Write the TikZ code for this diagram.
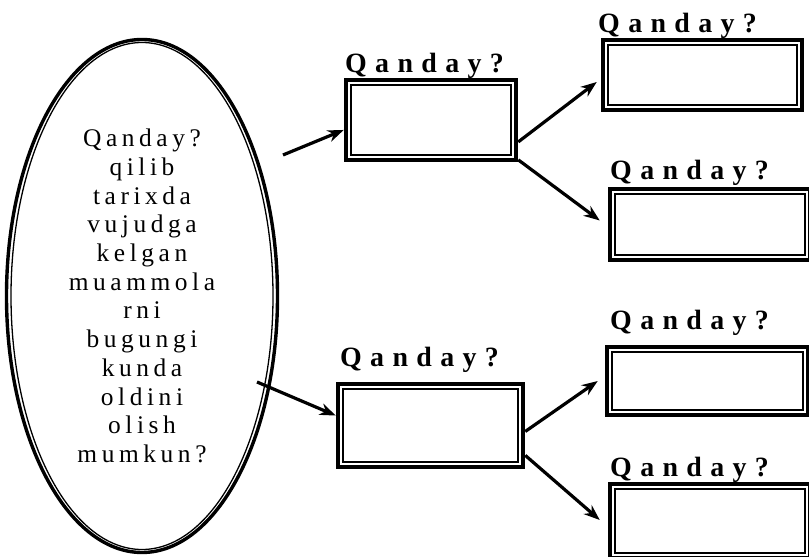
\documentclass[tikz,border=0pt]{standalone}
\usepackage{fontspec}
\setmainfont{Liberation Serif}
\newfontfamily\ovaltext[LetterSpace=18]{Liberation Serif}
\newfontfamily\lbltext[LetterSpace=30]{Liberation Serif}
\usetikzlibrary{shapes.geometric,arrows.meta}

\tikzset{
  box/.style={draw,line width=4.5bp,inner sep=0,
    path picture={\draw[line width=1.5bp]
      ([shift={(5bp,-5bp)}]path picture bounding box.north west) rectangle
      ([shift={(-5bp,5bp)}]path picture bounding box.south east);}},
  lbl/.style={anchor=base west,inner sep=0,font=\lbltext\bfseries\fontsize{28}{30}\selectfont},
  arr/.style={-{Stealth[length=16bp,width=12bp]},line width=3.2bp}
}

\begin{document}
\begin{tikzpicture}[x=1bp,y=1bp]
  \clip (0,0) rectangle (809,557);
  \fill[white] (0,0) rectangle (809,557);
  % oval with the question
  \node[ellipse,draw,line width=3.4bp,inner sep=0,minimum width=271bp,minimum height=513bp,
        align=center,font=\ovaltext\fontsize{25.5}{28.8}\selectfont] (q) at (142,261)
    {Qanday?\\qilib\\tarixda\\vujudga\\kelgan\\muammola\\rni\\bugungi\\kunda\\oldini\\olish\\mumkun?};
  \draw[line width=1.3bp] (q.center) ellipse [x radius=131, y radius=253.5];
  % boxes
  \node[box,minimum width=170bp,minimum height=80bp] (b1) at (431,437) {};
  \node[box,minimum width=199bp,minimum height=70bp] (b2) at (702.5,482) {};
  \node[box,minimum width=200bp,minimum height=71bp] (b3) at (710,332.5) {};
  \node[box,minimum width=201bp,minimum height=68bp] (b4) at (707.5,176) {};
  \node[box,minimum width=200bp,minimum height=74bp] (b5) at (710,36) {};
  \node[box,minimum width=185bp,minimum height=83bp] (b6) at (430.5,131.5) {};
  % labels
  \node[lbl] (l1) at (345,484) {Qanday?};
  \node[lbl] (l2) at (598,524) {Qanday?};
  \node[lbl] (l3) at (610,377) {Qanday?};
  \node[lbl] (l4) at (610,227) {Qanday?};
  \node[lbl] (l5) at (610,80) {Qanday?};
  \node[lbl] (l6) at (340,190) {Qanday?};
  % arrows
  \coordinate (s1) at (283,402);
  \coordinate (s2) at (257,175);
  \draw[arr] (s1) -- ([yshift=-10]b1.west);
  \draw[arr] ([yshift=-22]b1.east) -- ([shift={(-4,-7)}]b2.west);
  \draw[arr] ([yshift=-40]b1.east) -- ([shift={(-8,4)}]b3.west);
  \draw[arr] (s2) -- ([yshift=10]b6.west);
  \draw[arr] ([yshift=-6]b6.east) -- ([shift={(-7,0)}]b4.west);
  \draw[arr] ([yshift=-30]b6.east) -- ([shift={(-8,1)}]b5.west);
\end{tikzpicture}
\end{document}
